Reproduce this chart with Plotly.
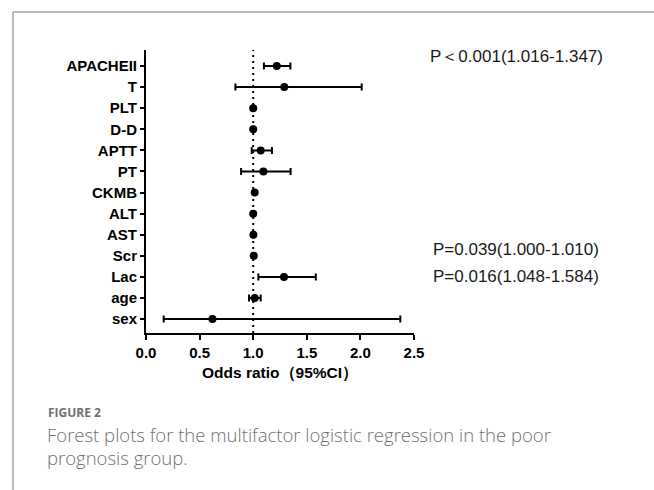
import plotly.graph_objects as go

labels = ["APACHEII", "T", "PLT", "D-D", "APTT", "PT", "CKMB", "ALT", "AST", "Scr", "Lac", "age", "sex"]
odds = [1.22, 1.29, 1.00, 1.00, 1.07, 1.095, 1.014, 1.000, 1.002, 1.005, 1.287, 1.014, 0.62]
lower = [1.10, 0.834, 0.996, 0.996, 0.986, 0.887, 1.008, 0.996, 0.998, 1.000, 1.048, 0.961, 0.165]
upper = [1.347, 2.012, 1.004, 1.004, 1.175, 1.349, 1.020, 1.004, 1.006, 1.010, 1.584, 1.07, 2.372]
x_ticks = [0.0, 0.5, 1.0, 1.5, 2.0, 2.5]
x_ticktext = ["0.0", "0.5", "1.0", "1.5", "2.0", "2.5"]
p_notes = [("APACHEII", "P＜0.001(1.016-1.347)"),
           ("Scr", "P=0.039(1.000-1.010)"),
           ("Lac", "P=0.016(1.048-1.584)")]

W, H = 654, 490
L, R, T, B = 146, 240, 50, 157
PW, PH = W - L - R, H - T - B

def px(x):
    return (x - L) / PW

def py(y):
    return (H - B - y) / PH

fig = go.Figure()
fig.add_trace(go.Scatter(
    x=odds, y=labels, mode="markers",
    marker=dict(color="black", size=8),
    error_x=dict(type="data", symmetric=False,
                 array=[u - o for u, o in zip(upper, odds)],
                 arrayminus=[o - l for o, l in zip(odds, lower)],
                 color="black", thickness=2, width=3.5),
    showlegend=False, cliponaxis=False,
))

fig.add_shape(type="line", xref="x", yref="paper", x0=1.0, x1=1.0, y0=0, y1=1,
              line=dict(color="black", width=2, dash="2px,4px"), layer="below")

# frame lines (grey box, left and top)
fig.add_shape(type="line", xref="paper", yref="paper", x0=px(13), x1=px(13), y0=py(12), y1=py(492),
              line=dict(color="#a3a3a3", width=1.5))
fig.add_shape(type="line", xref="paper", yref="paper", x0=px(13), x1=px(660), y0=py(12), y1=py(12),
              line=dict(color="#a3a3a3", width=1.5))

offsets = {"APACHEII": -0.44, "Scr": -0.28, "Lac": 0.0}
xpos = {"APACHEII": 428, "Scr": 431, "Lac": 431}
for lab, txt in p_notes:
    fig.add_annotation(x=px(xpos[lab]), xref="paper", y=labels.index(lab) + offsets[lab], yref="y",
                       text=txt, showarrow=False, xanchor="left", yanchor="middle",
                       font=dict(family="Liberation Sans, Arial", size=17, color="#1a1a1a"))

fig.add_annotation(x=0.5, xref="paper", y=py(373), yref="paper",
                   text="Odds ratio（95%CI）", showarrow=False, xanchor="center", yanchor="middle",
                   font=dict(family="Liberation Sans, Arial", size=15.5, color="black", weight="bold"))

fig.add_annotation(x=px(46), xref="paper", y=py(412), yref="paper", text="FIGURE 2",
                   showarrow=False, xanchor="left", yanchor="middle",
                   font=dict(family="Open Sans", size=12, color="#707070", weight="bold"))
fig.add_annotation(x=px(45), xref="paper", y=py(435), yref="paper",
                   text="Forest plots for the multifactor logistic regression in the poor",
                   showarrow=False, xanchor="left", yanchor="middle",
                   font=dict(family="Open Sans", size=18.5, color="#707070", weight=300))
fig.add_annotation(x=px(45), xref="paper", y=py(457), yref="paper",
                   text="prognosis group.",
                   showarrow=False, xanchor="left", yanchor="middle",
                   font=dict(family="Open Sans", size=18.5, color="#707070", weight=300))

fig.update_layout(
    width=W, height=H,
    margin=dict(l=L, r=R, t=T, b=B, autoexpand=False),
    paper_bgcolor="white", plot_bgcolor="white",
    font=dict(family="Liberation Sans, Arial", color="black"),
    xaxis=dict(range=[0, 2.5], tickvals=x_ticks, ticktext=x_ticktext,
               showline=True, linecolor="black", linewidth=2,
               ticks="outside", ticklen=5, tickwidth=2, tickcolor="black",
               showgrid=False, zeroline=False,
               tickfont=dict(size=15, color="black", weight="bold")),
    yaxis=dict(type="category", categoryorder="array", categoryarray=labels,
               range=[12.66, -0.76],
               showline=True, linecolor="black", linewidth=2,
               ticks="outside", ticklen=4, tickwidth=2, tickcolor="black",
               showgrid=False, zeroline=False,
               tickfont=dict(size=15, color="black", weight="bold")),
)

fig.write_html("out.html", config={"displayModeBar": False},
               post_script="document.body.style.margin='0';document.body.style.overflow='hidden';")
